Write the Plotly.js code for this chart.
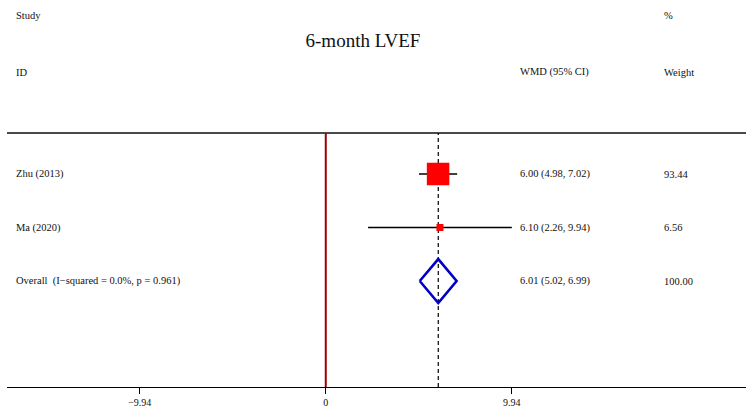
<!DOCTYPE html>
<html>
<head>
<meta charset="utf-8">
<script src="https://cdn.plot.ly/plotly-3.0.1.min.js"></script>
<style>
  html, body { margin: 0; padding: 0; background: #fff; }
  #chart { width: 746px; height: 411px; }
</style>
</head>
<body>
<div id="chart"></div>
<script>
// Forest plot: 6-month LVEF, weighted mean difference per study
const studies = ['Zhu (2013)', 'Ma (2020)'];
const wmd = [6.00, 6.10];
const ciLow = [4.98, 2.26];
const ciHigh = [7.02, 9.94];
const weights = [93.44, 6.56];

const overallLabel = 'Overall  (I\u2212squared = 0.0%, p = 0.961)';
const overallWmd = 6.01;
const overallLow = 5.02;
const overallHigh = 6.99;
const overallWeight = 100.00;

const tickVals = [-9.94, 0, 9.94];
const tickText = ['\u22129.94', '0', '9.94'];

const rows = studies.map((_, i) => i + 1);
const overallRow = studies.length + 1;

const serif = 'Liberation Serif, Times New Roman, serif';
const txt = { family: serif, size: 10.5, color: '#111' };

// paper-x positions of the text columns
const colStudy = 0.0095;
const colEffect = 0.692;
const colWeight = 0.887;

const fmt = v => v.toFixed(2);
const maxW = Math.max(...weights);
const boxSize = weights.map(w => Math.max(7, 22.5 * Math.sqrt(w / maxW)));

const traces = [
  {
    type: 'scatter', mode: 'markers',
    x: wmd, y: rows,
    marker: { symbol: 'square', color: '#ff0000', opacity: 1, size: boxSize, line: { width: 0 } },
    error_x: {
      type: 'data', symmetric: false,
      array: wmd.map((v, i) => ciHigh[i] - v),
      arrayminus: wmd.map((v, i) => v - ciLow[i]),
      width: 0, thickness: 1.5, color: '#000'
    },
    hoverinfo: 'skip'
  },
  {
    // pooled estimate diamond
    type: 'scatter', mode: 'lines',
    x: [overallLow, overallWmd, overallHigh, overallWmd, overallLow],
    y: [overallRow, overallRow - 0.41, overallRow, overallRow + 0.41, overallRow],
    line: { color: '#0000c8', width: 2.6 },
    hoverinfo: 'skip'
  }
];

const annotations = [];
const addText = (text, x, y, yref, font) => annotations.push({
  text, x, y, xref: 'paper', yref, xanchor: 'left', yanchor: 'middle',
  showarrow: false, font: font || txt
});

// header rows
addText('Study', colStudy, 1.461, 'paper');
addText('ID', colStudy, 1.24, 'paper');
addText('%', colWeight, 1.461, 'paper');
addText('WMD (95% CI)', colEffect, 1.24, 'paper');
addText('Weight', colWeight, 1.24, 'paper');

studies.forEach((s, i) => {
  addText(s, colStudy, rows[i], 'y');
  addText(`${fmt(wmd[i])} (${fmt(ciLow[i])}, ${fmt(ciHigh[i])})`, colEffect, rows[i], 'y');
  addText(fmt(weights[i]), colWeight, rows[i], 'y');
});
addText(overallLabel, colStudy, overallRow, 'y');
addText(`${fmt(overallWmd)} (${fmt(overallLow)}, ${fmt(overallHigh)})`, colEffect, overallRow, 'y');
addText(fmt(overallWeight), colWeight, overallRow, 'y');

const shapes = [
  // top rule
  { type: 'line', xref: 'paper', yref: 'paper', x0: 0, x1: 1, y0: 1, y1: 1,
    line: { color: '#4a4a4a', width: 2 }, layer: 'below' },
  // line of no effect
  { type: 'line', xref: 'x', yref: 'paper', x0: 0, x1: 0, y0: 0, y1: 1,
    line: { color: '#a00000', width: 2 }, layer: 'below' },
  // pooled estimate reference
  { type: 'line', xref: 'x', yref: 'paper', x0: overallWmd, x1: overallWmd, y0: 0, y1: 1,
    line: { color: '#000', width: 1.2, dash: '4px,3px' }, layer: 'below' }
];

const layout = {
  width: 746, height: 411,
  margin: { l: 7, r: 0, t: 133, b: 24, pad: 0 },
  paper_bgcolor: '#fff', plot_bgcolor: '#fff',
  showlegend: false, hovermode: false,
  title: {
    text: '6-month LVEF', x: 0.4866, xanchor: 'center', y: 0.9027, yanchor: 'middle',
    font: { family: serif, size: 19, color: '#111' }
  },
  xaxis: {
    range: [-17.03, 22.45], showgrid: false, zeroline: false,
    showline: true, linecolor: '#000', linewidth: 1.3,
    ticks: 'outside', ticklen: 6, tickwidth: 1, tickcolor: '#000',
    tickmode: 'array', tickvals: tickVals, ticktext: tickText,
    tickfont: { family: serif, size: 10, color: '#111' },
    fixedrange: true
  },
  yaxis: {
    range: [4.98, 0.234], visible: false, showgrid: false, zeroline: false, fixedrange: true
  },
  shapes, annotations
};

Plotly.newPlot('chart', traces, layout, { staticPlot: true, displayModeBar: false });
</script>
</body>
</html>
